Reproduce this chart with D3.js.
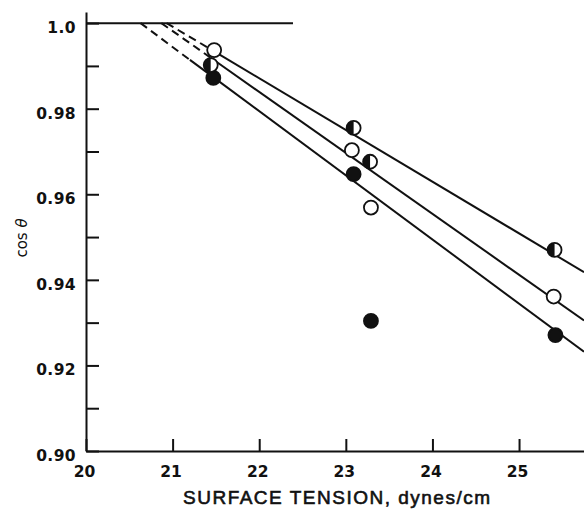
<!DOCTYPE html>
<html>
<head>
<meta charset="utf-8">
<script src="https://cdn.jsdelivr.net/npm/d3@7"></script>
<style>
  html, body { margin: 0; padding: 0; background: #fff; }
  svg { display: block; }
</style>
</head>
<body>
<svg id="chart" width="584" height="510"></svg>
<script>
// ---- data ----
const xTickValues = [20, 21, 22, 23, 24, 25];
const xTickLabels = ["20", "21", "22", "23", "24", "25"];
const yTickValues = [0.90, 0.92, 0.94, 0.96, 0.98, 1.00];
const yTickLabels = ["0.90", "0.92", "0.94", "0.96", "0.98", "1.0"];
const yMinorTicks = [0.91, 0.93, 0.95, 0.97, 0.99];

// open circles
const openX = [21.48, 23.07, 23.29, 25.40];
const openY = [0.9937, 0.9703, 0.9569, 0.9361];
// half-filled circles
const halfX = [21.44, 23.09, 23.28, 25.41];
const halfY = [0.9902, 0.9755, 0.9676, 0.9470];
// filled circles
const fillX = [21.47, 23.09, 23.29, 25.42];
const fillY = [0.9872, 0.9647, 0.9304, 0.9271];

// fitted lines: [dashed start (at cos=1), solid start, end]
const lineTopX = [20.93, 21.48, 25.75];
const lineTopY = [1.000, 0.9934, 0.9418];
const lineMidX = [20.87, 21.44, 25.75];
const lineMidY = [1.000, 0.9919, 0.9305];
const lineBotX = [20.63, 21.20, 25.75];
const lineBotY = [1.000, 0.9914, 0.9232];

// horizontal reference line at cos = 1
const refX = [20, 22.39];
const refY = [1.0, 1.0];

// ---- drawing ----
const svg = d3.select("#chart");
const ink = "#111";

const x = d3.scaleLinear().domain([20, 25.75]).range([86, 584]);
const y = d3.scaleLinear().domain([0.90, 1.0026]).range([451, 12]);

// y axis (major)
const yAxis = d3.axisLeft(y)
  .tickValues(yTickValues)
  .tickFormat((d, i) => yTickLabels[i])
  .tickSizeInner(-13).tickSizeOuter(0).tickPadding(10);
const gy = svg.append("g").attr("transform", "translate(86,0)").call(yAxis);
gy.select(".domain").attr("stroke", ink).attr("stroke-width", 2);
gy.selectAll(".tick line").attr("stroke", ink).attr("stroke-width", 2);
gy.selectAll(".tick text")
  .attr("fill", ink).attr("dy", "0.6em")
  .style("font-family", "'DejaVu Sans', sans-serif")
  .style("font-weight", "bold").style("font-size", "15.5px")
  .style("letter-spacing", "0.4px");

// y axis (minor)
const yMinor = d3.axisLeft(y).tickValues(yMinorTicks).tickFormat("")
  .tickSizeInner(-13).tickSizeOuter(0);
const gym = svg.append("g").attr("transform", "translate(86,0)").call(yMinor);
gym.select(".domain").remove();
gym.selectAll(".tick line").attr("stroke", ink).attr("stroke-width", 2);

// x axis
const xAxis = d3.axisBottom(x)
  .tickValues(xTickValues)
  .tickFormat((d, i) => xTickLabels[i])
  .tickSizeInner(-12).tickSizeOuter(0).tickPadding(15);
const gx = svg.append("g").attr("transform", "translate(0,451)").call(xAxis);
gx.select(".domain").attr("stroke", ink).attr("stroke-width", 2);
gx.selectAll(".tick line").attr("stroke", ink).attr("stroke-width", 2);
gx.selectAll(".tick text")
  .attr("fill", ink).attr("dx", "-2")
  .style("font-family", "'DejaVu Sans', sans-serif")
  .style("font-weight", "bold").style("font-size", "15.5px");

// axis titles
svg.append("text")
  .attr("x", 336.5).attr("y", 504)
  .attr("text-anchor", "middle")
  .attr("textLength", 307).attr("lengthAdjust", "spacing")
  .attr("fill", ink)
  .style("font-family", "'Liberation Sans', Arial, sans-serif")
  .style("font-size", "19px")
  .style("stroke", ink).style("stroke-width", "0.6px")
  .text("SURFACE TENSION, dynes/cm");

const yt = svg.append("text")
  .attr("transform", "translate(26.5,238) rotate(-90)")
  .attr("text-anchor", "middle")
  .attr("fill", ink)
  .style("font-family", "'DejaVu Sans', sans-serif")
  .style("font-size", "15px");
yt.append("tspan").text("cos ");
yt.append("tspan").style("font-style", "italic").text("θ");

// reference line
const line = d3.line().x(d => x(d[0])).y(d => y(d[1]));
svg.append("path")
  .attr("d", line(d3.zip(refX, refY)))
  .attr("fill", "none").attr("stroke", ink).attr("stroke-width", 2);

// fitted lines
[[lineTopX, lineTopY], [lineMidX, lineMidY], [lineBotX, lineBotY]].forEach(([lx, ly]) => {
  const pts = d3.zip(lx, ly);
  svg.append("path")
    .attr("d", line(pts.slice(0, 2)))
    .attr("fill", "none").attr("stroke", ink).attr("stroke-width", 2)
    .attr("stroke-dasharray", "8,5");
  svg.append("path")
    .attr("d", line(pts.slice(1)))
    .attr("fill", "none").attr("stroke", ink).attr("stroke-width", 2);
});

// markers
const r = 7;
function circles(xs, ys, fill) {
  svg.append("g").selectAll("circle")
    .data(d3.zip(xs, ys)).join("circle")
    .attr("cx", d => x(d[0])).attr("cy", d => y(d[1]))
    .attr("r", r).attr("fill", fill)
    .attr("stroke", ink).attr("stroke-width", 1.8);
}
circles(openX, openY, "#fff");
circles(fillX, fillY, ink);
circles(halfX, halfY, "#fff");
const halfArc = d3.arc()({innerRadius: 0, outerRadius: r, startAngle: Math.PI, endAngle: 2 * Math.PI});
svg.append("g").selectAll("path")
  .data(d3.zip(halfX, halfY)).join("path")
  .attr("transform", d => `translate(${x(d[0])},${y(d[1])})`)
  .attr("d", halfArc).attr("fill", ink);
</script>
</body>
</html>
